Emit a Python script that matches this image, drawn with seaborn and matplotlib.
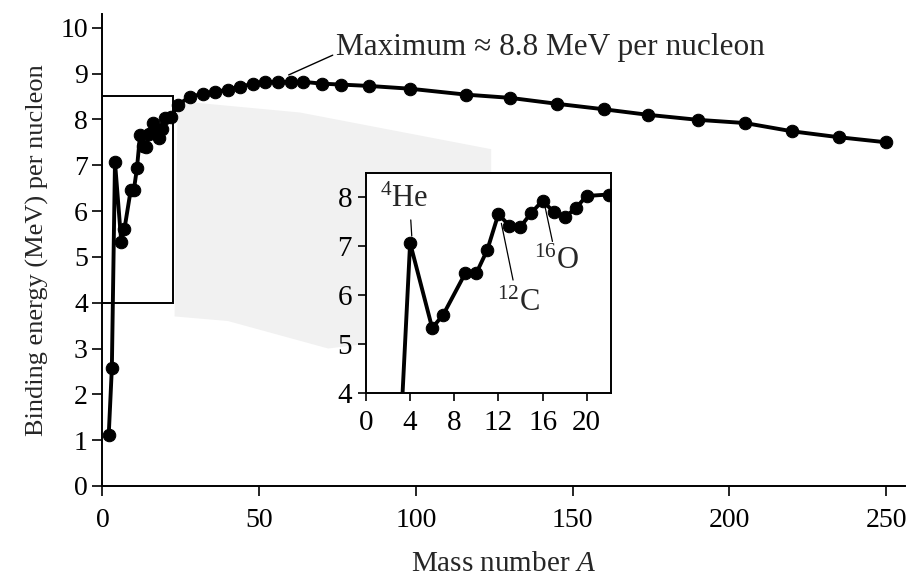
import matplotlib
matplotlib.use("Agg")
import matplotlib.pyplot as plt
import seaborn as sns
import pandas as pd
from matplotlib.patches import Rectangle, Polygon

# ---- data ----
mass_low = [2, 3, 4, 6, 7, 9, 10, 11, 12, 13, 14, 15, 16, 17, 18, 19, 20, 22]
be_low = [1.11, 2.57, 7.07, 5.33, 5.60, 6.45, 6.45, 6.93, 7.66, 7.42, 7.40,
          7.69, 7.93, 7.71, 7.59, 7.78, 8.03, 8.06]
mass_high = [24, 28, 32, 36, 40, 44, 48, 52, 56, 60, 64, 70, 76, 85, 98,
             116, 130, 145, 160, 174, 190, 205, 220, 235, 250]
be_high = [8.32, 8.49, 8.56, 8.60, 8.65, 8.71, 8.78, 8.82, 8.82, 8.82, 8.82,
           8.78, 8.76, 8.73, 8.67, 8.54, 8.47, 8.34, 8.22, 8.10, 7.99, 7.92,
           7.74, 7.61, 7.50]
main_xticks = [0, 50, 100, 150, 200, 250]
main_yticks = [0, 1, 2, 3, 4, 5, 6, 7, 8, 9, 10]
inset_xticks = [0, 4, 8, 12, 16, 20]
inset_yticks = [4, 5, 6, 7, 8]

df_main = pd.DataFrame({"A": mass_low + mass_high, "BE": be_low + be_high})
df_inset = pd.DataFrame({"A": mass_low[1:], "BE": be_low[1:]})

sns.set_theme(style="ticks")
plt.rcParams["font.family"] = ["Liberation Serif", "DejaVu Serif"]
plt.rcParams["mathtext.fontset"] = "custom"
plt.rcParams["mathtext.rm"] = "Liberation Serif"
plt.rcParams["mathtext.it"] = "Liberation Serif:italic"

fig = plt.figure(figsize=(9.09, 5.78), dpi=100)
ax = fig.add_axes([0.1127, 0.1592, 0.8829, 0.8166])

# faint shading between box and inset (decorative)
shade = Polygon([(24, 8.4), (63, 8.15), (124, 7.35), (124, 6.85), (84, 6.85),
                 (84, 3.1), (72, 3.0), (40, 3.6), (23, 3.7)],
                closed=True, facecolor="#f1f1f1", edgecolor="none", zorder=0)
ax.add_patch(shade)

sns.lineplot(data=df_main, x="A", y="BE", ax=ax, color="black", linewidth=2.8,
             marker="o", markersize=9, markeredgecolor="black", zorder=3)

ax.add_patch(Rectangle((0, 4), 22.5, 4.5, fill=False, edgecolor="black",
                       linewidth=1.4, zorder=2))

ax.set_xlim(0, 256)
ax.set_ylim(0, 10.3)
ax.set_xticks(main_xticks)
ax.set_yticks(main_yticks)
ax.tick_params(axis="both", labelsize=20, length=7, width=1.2, direction="out",
               colors="black")
ax.tick_params(axis="x", pad=9)
for s in ["top", "right"]:
    ax.spines[s].set_visible(False)
for s in ["left", "bottom"]:
    ax.spines[s].set_linewidth(1.4)
    ax.spines[s].set_color("black")
ax.set_xlabel("Mass number $\\mathit{A}$", fontsize=21, labelpad=13)
ax.set_ylabel("Binding energy (MeV) per nucleon", fontsize=19, labelpad=8)

ax.annotate("Maximum ≈ 8.8 MeV per nucleon", xy=(59.4, 8.97),
            xytext=(74.5, 9.56), fontsize=22.5, va="center", ha="left",
            arrowprops=dict(arrowstyle="-", color="black", linewidth=1.0,
                            shrinkA=0, shrinkB=0,
                            relpos=(0, 0.3)))

# ---- inset ----
axi = fig.add_axes([0.4026, 0.3201, 0.2695, 0.3806])
sns.lineplot(data=df_inset, x="A", y="BE", ax=axi, color="black", linewidth=2.8,
             marker="o", markersize=9, markeredgecolor="black", zorder=3)
axi.set_xlim(0, 22.2)
axi.set_ylim(4, 8.5)
axi.set_xticks(inset_xticks)
axi.set_yticks(inset_yticks)
axi.tick_params(axis="both", labelsize=21, length=6, width=1.2, direction="out",
                colors="black", pad=4)
axi.tick_params(axis="x", pad=6)
for s in axi.spines.values():
    s.set_linewidth(1.4)
    s.set_color("black")
axi.set_xlabel("")
axi.set_ylabel("")

axi.text(3.5, 7.95, "$^{4}$He", fontsize=22, ha="center", va="center")
axi.plot([4.06, 4.15], [7.54, 7.21], color="black", linewidth=0.9)
axi.text(13.8, 5.84, "$^{12}$C", fontsize=22, ha="center", va="center")
axi.plot([12.27, 13.33], [7.47, 6.31], color="black", linewidth=0.9)
axi.text(17.3, 6.69, "$^{16}$O", fontsize=22, ha="center", va="center")
axi.plot([16.2, 16.9], [7.84, 7.1], color="black", linewidth=0.9)

fig.savefig("out.png", dpi=100)
